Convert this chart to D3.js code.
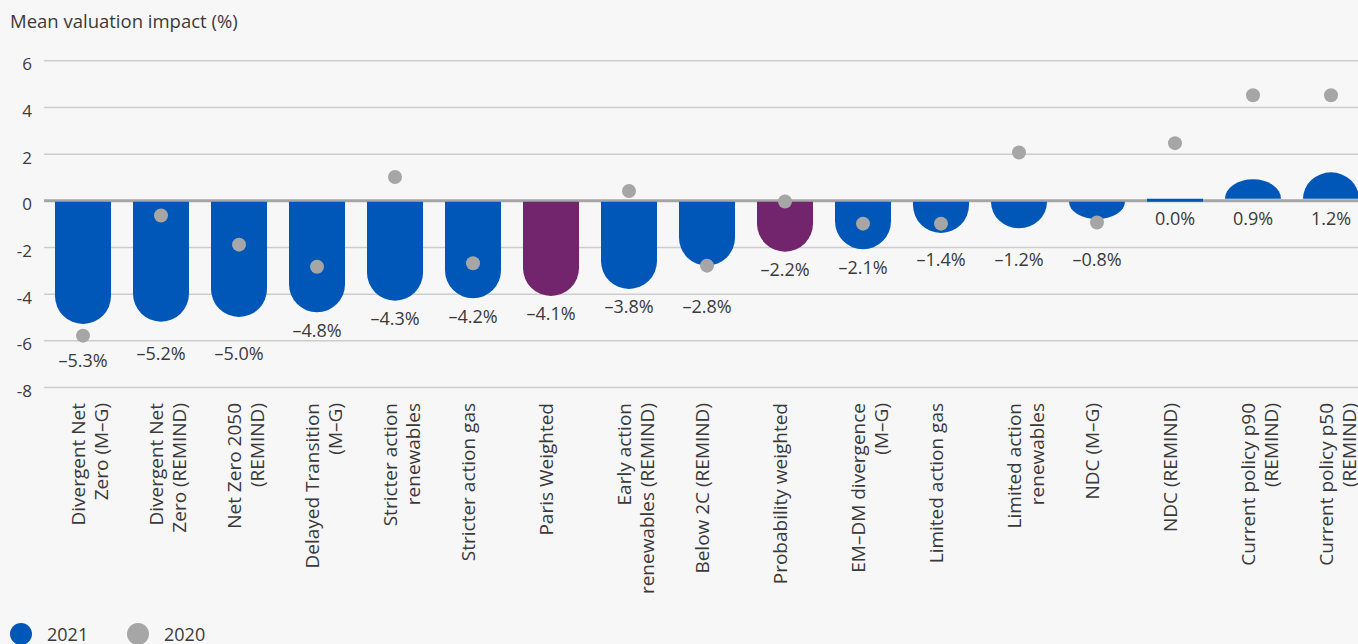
<!DOCTYPE html>
<html><head><meta charset="utf-8">
<script src="https://cdn.jsdelivr.net/npm/d3@7/dist/d3.min.js"></script>
<style>
html,body{margin:0;padding:0;background:#f7f7f7;overflow:hidden;}
svg{display:block;font-family:"Open Sans","Noto Sans",sans-serif;}
</style></head><body>
<svg id="chart" width="1358" height="644"></svg>
<script>
// ---- data ----
const categories = [
  "Divergent Net\nZero (M–G)",
  "Divergent Net\nZero (REMIND)",
  "Net Zero 2050\n(REMIND)",
  "Delayed Transition\n(M–G)",
  "Stricter action\nrenewables",
  "Stricter action gas",
  "Paris Weighted",
  "Early action\nrenewables (REMIND)",
  "Below 2C (REMIND)",
  "Probability weighted",
  "EM–DM divergence\n(M–G)",
  "Limited action gas",
  "Limited action\nrenewables",
  "NDC (M–G)",
  "NDC (REMIND)",
  "Current policy p90\n(REMIND)",
  "Current policy p50\n(REMIND)"
];
const values2021 = [-5.3, -5.2, -5.0, -4.8, -4.3, -4.2, -4.1, -3.8, -2.8, -2.2, -2.1, -1.4, -1.2, -0.8, 0.0, 0.9, 1.2];
const values2020 = [-5.8, -0.65, -1.9, -2.85, 1.0, -2.7, null, 0.4, -2.8, -0.05, -1.0, -1.0, 2.05, -0.95, 2.45, 4.5, 4.5];
const weightedCategories = ["Paris Weighted", "Probability weighted"];
const yTicks = [-8, -6, -4, -2, 0, 2, 4, 6];
const seriesNames = ["2021", "2020"];
const yTitle = "Mean valuation impact (%)";

// ---- styles ----
const BLUE = "#0057b8", PURPLE = "#72246c", GREY = "#a6a6a6", TEXT = "#3a3a3a";

const svg = d3.select("#chart");
const x = d3.scaleBand().domain(categories).range([44, 1370]).paddingInner(0.282).paddingOuter(0.141);
const y = d3.scaleLinear().domain([-8, 6]).range([387, 60.3]);

// title
svg.append("text").attr("x", 10).attr("y", 28).attr("fill", TEXT)
  .style("font-size", "18.5px").text(yTitle);

// grid + y axis
const yAxis = d3.axisLeft(y).tickValues(yTicks).tickSize(-(1358 - 44)).tickPadding(12)
  .tickFormat(d => d < 0 ? "-" + Math.abs(d) : String(d));
const gAx = svg.append("g").attr("transform", "translate(44,0)").call(yAxis);
gAx.select(".domain").remove();
gAx.selectAll(".tick line")
  .attr("stroke", d => d === 0 ? GREY : "#cdcdcd")
  .attr("stroke-width", d => d === 0 ? 3 : 1.5);
gAx.selectAll(".tick text").attr("fill", TEXT).attr("dy", "0.55em")
  .style("font-size", "17px").style("font-family", '"Open Sans","Noto Sans",sans-serif');

// bars
const data = categories.map((c, i) => ({cat: c, v: values2021[i], p: values2020[i]}));
function barPath(d) {
  const x0 = x(d.cat), w = x.bandwidth(), r = w / 2, y0 = y(0), y1 = y(d.v);
  if (d.v === 0) return `M${x0},${y0 - 1.5}h${w}v3h${-w}Z`;
  const s = d.v < 0 ? 1 : -1;
  const start = y0 + s * 1.5;
  const h = Math.abs(y1 - start);
  const sweep = s > 0 ? 0 : 1;
  if (h >= r) {
    const ya = y1 - s * r;
    return `M${x0},${start}V${ya}A${r},${r} 0 0 ${sweep} ${x0 + w},${ya}V${start}Z`;
  }
  return `M${x0},${start}A${r},${h} 0 0 ${sweep} ${x0 + w},${start}Z`;
}
svg.append("g").selectAll("path").data(data).join("path")
  .attr("d", barPath)
  .attr("fill", d => weightedCategories.includes(d.cat) ? PURPLE : BLUE);

// dots
svg.append("g").selectAll("circle").data(data.filter(d => d.p !== null)).join("circle")
  .attr("cx", d => x(d.cat) + x.bandwidth() / 2)
  .attr("cy", d => y(d.p)).attr("r", 7).attr("fill", GREY);

// value labels (below bar end / dot, nudged off grid lines)
const gridYs = yTicks.filter(t => t !== 0).map(y);
function labelY(d) {
  let base = d.v < 0 ? y(d.v) : y(0);
  if (d.p !== null && d.p < 0) base = Math.max(base, y(d.p) + 7);
  let c = base + 18;
  for (const g of gridYs) if (Math.abs(c - g) < 9) c = g + 13;
  return c;
}
const fmt = v => (v < 0 ? "–" : "") + Math.abs(v).toFixed(1) + "%";
svg.append("g").selectAll("text").data(data).join("text")
  .attr("x", d => x(d.cat) + x.bandwidth() / 2)
  .attr("y", labelY).attr("dy", "0.35em")
  .attr("text-anchor", "middle").attr("fill", TEXT)
  .style("font-size", "18px").text(d => fmt(d.v));

// category labels (rotated)
const gl = svg.append("g").selectAll("g").data(data).join("g")
  .attr("transform", d => `translate(${x(d.cat) + x.bandwidth() / 2},403) rotate(-90)`);
gl.append("text").attr("text-anchor", "end").attr("y", 2).attr("fill", TEXT)
  .style("font-size", "19px")
  .selectAll("tspan").data(d => d.cat.split("\n")).join("tspan")
  .attr("x", 0).attr("dy", (t, i) => i === 0 ? 0 : 22.7).text(t => t);

// legend
const legColors = [BLUE, GREY];
const legX = [21, 138];
const lg = svg.append("g").selectAll("g").data(seriesNames).join("g")
  .attr("transform", (s, i) => `translate(${legX[i]},634)`);
lg.append("circle").attr("r", 11).attr("fill", (s, i) => legColors[i]);
lg.append("text").attr("x", 26).attr("y", 6.5).attr("fill", TEXT)
  .style("font-size", "18px").text(s => s);
</script>
</body></html>
